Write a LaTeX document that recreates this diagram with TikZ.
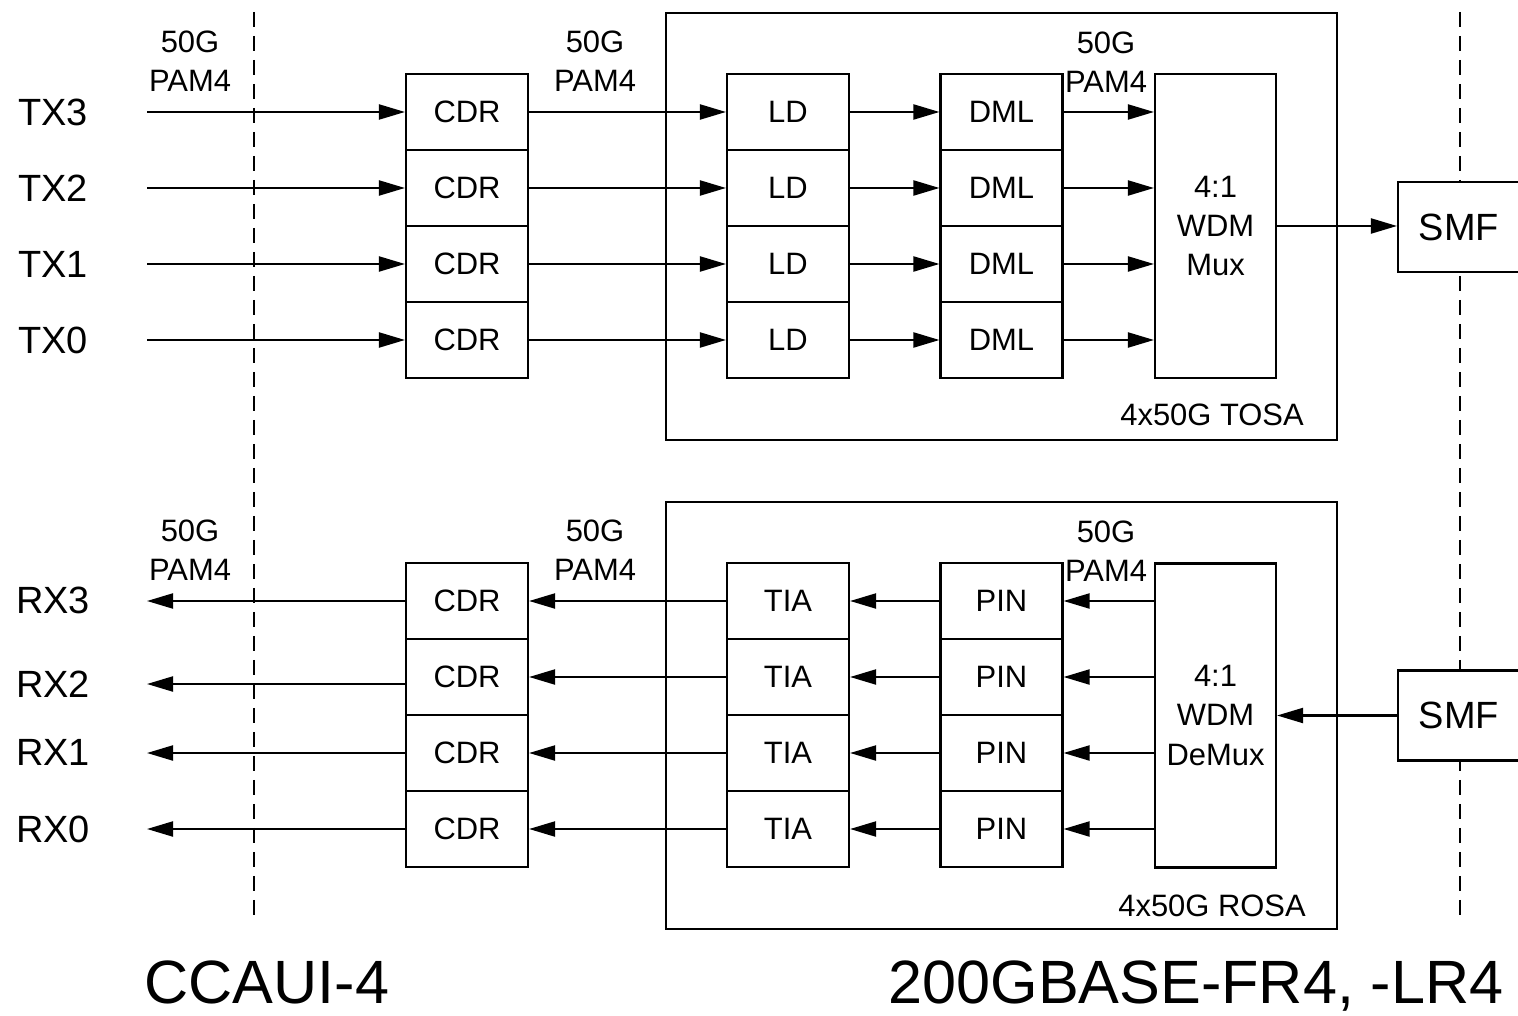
\documentclass[tikz,border=0pt]{standalone}
\usepackage{fontspec}
\setmainfont{Liberation Sans}
\usetikzlibrary{arrows.meta}

\begin{document}
\begin{tikzpicture}[x=0.1mm,y=-0.1mm,line width=0.6pt,
  blk/.style={draw,rectangle,inner sep=0pt,minimum width=12.2mm,minimum height=7.6mm,font=\fontsize{8.8}{11.1}\selectfont},
  wdm/.style={draw,rectangle,inner sep=0pt,minimum width=12.1mm,minimum height=30.4mm,align=center,font=\fontsize{8.8}{11.1}\selectfont},
  osa/.style={draw,rectangle,inner sep=0pt,minimum width=67.1mm,minimum height=42.7mm},
  smf/.style={draw,fill=white,rectangle,inner sep=0pt,minimum width=12.2mm,minimum height=9mm,font=\fontsize{10.8}{13}\selectfont},
  rate/.style={align=center,inner sep=0pt,font=\fontsize{8.8}{11.1}\selectfont},
  port/.style={inner sep=0pt,font=\fontsize{10.8}{13}\selectfont},
  title/.style={inner sep=0pt,anchor=base,font=\fontsize{17.4}{20}\selectfont},
  arr/.style={-{Triangle[length=2.6mm,width=1.5mm]}},
  iface/.style={dash pattern=on 1.5mm off 0.9mm}]
\useasboundingbox (0,0) rectangle (1518,1016);
%interfaces
\draw[iface] (254,12) to (254,920);
\draw[iface] (1460,12) to (1460,920);
%TOSA and ROSA
\node[osa] (tosa) at (1001.5,226.5) {};
\node[osa] (rosa) at (1001.5,715.5) {};
\node[rate] (tosalab) at (1212,415) {4x50G TOSA};
\node[rate] (rosalab) at (1212,906) {4x50G ROSA};

%transmit side
\node[port] (tx3) at (53,112) {TX3};
\node[port] (tx2) at (53,188) {TX2};
\node[port] (tx1) at (53,264) {TX1};
\node[port] (tx0) at (53,340) {TX0};
\coordinate (tx3in) at (147,112);
\coordinate (tx2in) at (147,188);
\coordinate (tx1in) at (147,264);
\coordinate (tx0in) at (147,340);
\node[blk] (cdrT3) at (467,112) {CDR};
\node[blk] (cdrT2) at (467,188) {CDR};
\node[blk] (cdrT1) at (467,264) {CDR};
\node[blk] (cdrT0) at (467,340) {CDR};
\node[blk] (ld3) at (788,112) {LD};
\node[blk] (ld2) at (788,188) {LD};
\node[blk] (ld1) at (788,264) {LD};
\node[blk] (ld0) at (788,340) {LD};
\node[blk] (dml3) at (1001.5,112) {DML};
\node[blk] (dml2) at (1001.5,188) {DML};
\node[blk] (dml1) at (1001.5,264) {DML};
\node[blk] (dml0) at (1001.5,340) {DML};
\node[wdm] (mux) at (1215.5,226) {4:1\\WDM\\Mux};
\node[smf] (smfT) at (1459,227) {SMF};
\node[rate] (rateT1) at (190,61) {50G\\PAM4};
\node[rate] (rateT2) at (595,61) {50G\\PAM4};
\node[rate] (rateT3) at (1106,62) {50G\\PAM4};
%arrows
\draw[arr] (tx3in) -- (cdrT3.west);
\draw[arr] (tx2in) -- (cdrT2.west);
\draw[arr] (tx1in) -- (cdrT1.west);
\draw[arr] (tx0in) -- (cdrT0.west);
\draw[arr] (cdrT3.east) -- (ld3.west);
\draw[arr] (cdrT2.east) -- (ld2.west);
\draw[arr] (cdrT1.east) -- (ld1.west);
\draw[arr] (cdrT0.east) -- (ld0.west);
\draw[arr] (ld3.east) -- (dml3.west);
\draw[arr] (ld2.east) -- (dml2.west);
\draw[arr] (ld1.east) -- (dml1.west);
\draw[arr] (ld0.east) -- (dml0.west);
\draw[arr] (dml3.east) -- (dml3.east -| mux.west);
\draw[arr] (dml2.east) -- (dml2.east -| mux.west);
\draw[arr] (dml1.east) -- (dml1.east -| mux.west);
\draw[arr] (dml0.east) -- (dml0.east -| mux.west);
\draw[arr] (mux.east) -- (mux.east -| smfT.west);

%receive side
\node[port] (rx3) at (53,600) {RX3};
\node[port] (rx2) at (53,684) {RX2};
\node[port] (rx1) at (53,752) {RX1};
\node[port] (rx0) at (53,829) {RX0};
\coordinate (rx3out) at (147,601);
\coordinate (rx2out) at (147,684);
\coordinate (rx1out) at (147,753);
\coordinate (rx0out) at (147,829);
\node[blk] (cdrR3) at (467,601) {CDR};
\node[blk] (cdrR2) at (467,677) {CDR};
\node[blk] (cdrR1) at (467,753) {CDR};
\node[blk] (cdrR0) at (467,829) {CDR};
\node[blk] (tia3) at (788,601) {TIA};
\node[blk] (tia2) at (788,677) {TIA};
\node[blk] (tia1) at (788,753) {TIA};
\node[blk] (tia0) at (788,829) {TIA};
\node[blk] (pin3) at (1001.5,601) {PIN};
\node[blk] (pin2) at (1001.5,677) {PIN};
\node[blk] (pin1) at (1001.5,753) {PIN};
\node[blk] (pin0) at (1001.5,829) {PIN};
\node[wdm] (demux) at (1215.5,715.5) {4:1\\WDM\\DeMux};
\node[smf] (smfB) at (1459,715.5) {SMF};
\node[rate] (rateR1) at (190,550) {50G\\PAM4};
\node[rate] (rateR2) at (595,550) {50G\\PAM4};
\node[rate] (rateR3) at (1106,551) {50G\\PAM4};
%arrows
\draw[arr] (cdrR3.west) -- (rx3out);
\draw[arr] (cdrR2.west |- rx2out) -- (rx2out);
\draw[arr] (cdrR1.west) -- (rx1out);
\draw[arr] (cdrR0.west) -- (rx0out);
\draw[arr] (tia3.west) -- (cdrR3.east);
\draw[arr] (tia2.west) -- (cdrR2.east);
\draw[arr] (tia1.west) -- (cdrR1.east);
\draw[arr] (tia0.west) -- (cdrR0.east);
\draw[arr] (pin3.west) -- (tia3.east);
\draw[arr] (pin2.west) -- (tia2.east);
\draw[arr] (pin1.west) -- (tia1.east);
\draw[arr] (pin0.west) -- (tia0.east);
\draw[arr] (pin3.east -| demux.west) -- (pin3.east);
\draw[arr] (pin2.east -| demux.west) -- (pin2.east);
\draw[arr] (pin1.east -| demux.west) -- (pin1.east);
\draw[arr] (pin0.east -| demux.west) -- (pin0.east);
\draw[arr] (smfB.west) -- (smfB.west -| demux.east);

%caption
\node[title] (ccaui) at (267,1003) {CCAUI-4};
\node[title] (pmd) at (1196,1003) {200GBASE-FR4, -LR4};
\end{tikzpicture}
\end{document}
